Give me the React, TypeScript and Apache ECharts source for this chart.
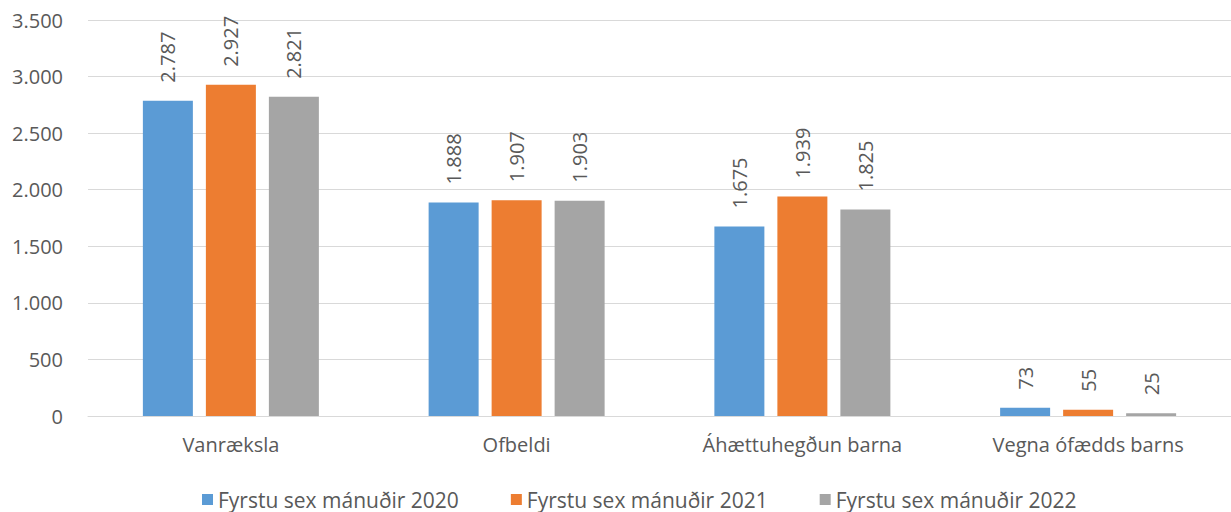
import React, { useEffect, useRef } from "react";
import * as echarts from "echarts";

const categories = ["Vanræksla", "Ofbeldi", "Áhættuhegðun barna", "Vegna ófædds barns"];
const seriesNames = ["Fyrstu sex mánuðir 2020", "Fyrstu sex mánuðir 2021", "Fyrstu sex mánuðir 2022"];
const values2020 = [2787, 1888, 1675, 73];
const values2021 = [2927, 1907, 1939, 55];
const values2022 = [2821, 1903, 1825, 25];
const colors = ["#5B9BD5", "#ED7D31", "#A5A5A5"];

const fmt = (v: number) => String(v).replace(/\B(?=(\d{3})+(?!\d))/g, ".");

export default function App() {
  const ref = useRef<HTMLDivElement>(null);
  useEffect(() => {
    const chart = echarts.init(ref.current!, null, { renderer: "svg" });
    const font = "'Open Sans', sans-serif";
    const data = [values2020, values2021, values2022];
    chart.setOption({
      animation: false,
      textStyle: { fontFamily: font },
      grid: { left: 88, right: 0, top: 20, bottom: 96, containLabel: false },
      legend: {
        top: 484,
        left: 197,
        itemWidth: 11,
        itemHeight: 11,
        itemGap: 52,
        icon: "rect",
        textStyle: { fontSize: 21, color: "#595959", fontFamily: font },
        data: seriesNames,
      },
      xAxis: {
        type: "category",
        data: categories,
        axisLine: { lineStyle: { color: "#D9D9D9", width: 1 } },
        axisTick: { show: false },
        axisLabel: { fontSize: 20, color: "#595959", margin: 18, fontFamily: font },
      },
      yAxis: {
        type: "value",
        min: 0,
        max: 3500,
        interval: 500,
        axisLine: { show: false },
        axisTick: { show: false },
        splitLine: { lineStyle: { color: "#D9D9D9", width: 1 } },
        axisLabel: { fontSize: 20, color: "#595959", margin: 25, formatter: (v: number) => fmt(v), fontFamily: font },
      },
      series: seriesNames.map((name, i) => ({
        name,
        type: "bar",
        data: data[i],
        barWidth: 50,
        barGap: "26%",
        itemStyle: { color: colors[i] },
        label: {
          show: true,
          position: "top",
          rotate: 90,
          align: "left",
          verticalAlign: "middle",
          distance: 18,
          fontSize: 20,
          color: "#595959",
          fontFamily: font,
          formatter: (p: any) => fmt(p.value),
        },
      })),
    });
    return () => chart.dispose();
  }, []);
  return <div ref={ref} style={{ width: 1231, height: 512, position: "absolute", left: 0, top: 0 }} />;
}
